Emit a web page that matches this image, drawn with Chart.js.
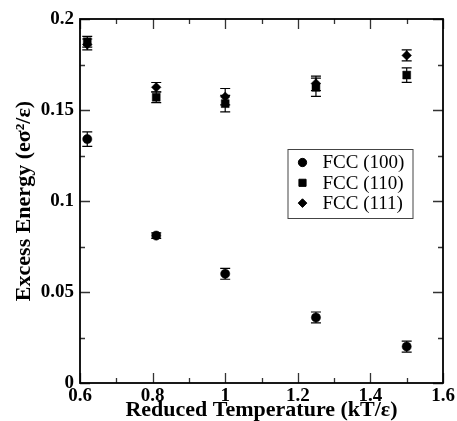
<!DOCTYPE html>
<html><head><meta charset="utf-8">
<script src="https://cdn.jsdelivr.net/npm/chart.js@4.4.1/dist/chart.umd.min.js"></script>
<style>html,body{margin:0;padding:0;background:#fff}#wrap{width:457px;height:421px}</style>
</head><body><div id="wrap"><canvas id="c" width="457" height="421"></canvas></div>
<script>
const temps = [0.62, 0.81, 1.0, 1.25, 1.5];
const fcc100 = [0.134, 0.081, 0.060, 0.036, 0.020];
const fcc100Err = [0.004, 0.0015, 0.003, 0.003, 0.003];
const fcc110 = [0.1875, 0.157, 0.1535, 0.1625, 0.1692];
const fcc110Err = [0.003, 0.003, 0.0045, 0.005, 0.004];
const fcc111 = [0.186, 0.1625, 0.1573, 0.1646, 0.1800];
const fcc111Err = [0.003, 0.0026, 0.0045, 0.004, 0.003];
const seriesNames = ['FCC (100)', 'FCC (110)', 'FCC (111)'];
const xTickValues = [0.6, 0.8, 1.0, 1.2, 1.4, 1.6];
const xTickLabels = ['0.6', '0.8', '1', '1.2', '1.4', '1.6'];
const xMinorTicks = [0.7, 0.9, 1.1, 1.3, 1.5];
const yTickValues = [0, 0.05, 0.1, 0.15, 0.2];
const yTickLabels = ['0', '0.05', '0.1', '0.15', '0.2'];
const yMinorTicks = [0.025, 0.075, 0.125, 0.175];

const FONT = 'Liberation Serif';
const pointStyles = ['circle', 'rect', 'rectRot'];
const pointRadii = [4.6, 5.6, 4.8];

function pts(ys) { return temps.map((t, i) => ({x: t, y: ys[i]})); }
const values = [fcc100, fcc110, fcc111];
const errs = [fcc100Err, fcc110Err, fcc111Err];

const datasets = seriesNames.map((name, k) => ({
  label: name,
  data: pts(values[k]),
  errors: errs[k],
  showLine: false,
  pointStyle: pointStyles[k],
  pointRadius: pointRadii[k],
  pointHoverRadius: pointRadii[k],
  backgroundColor: '#000',
  borderColor: '#000',
  pointBorderWidth: 0.5
}));

const decor = {
  id: 'decor',
  beforeDatasetsDraw(chart) {
    const ctx = chart.ctx, xs = chart.scales.x, ys = chart.scales.y;
    ctx.save();
    ctx.strokeStyle = '#000';
    ctx.lineWidth = 1.2;
    chart.data.datasets.forEach(ds => {
      ds.data.forEach((p, i) => {
        const e = ds.errors[i];
        const px = xs.getPixelForValue(p.x);
        const y1 = ys.getPixelForValue(p.y + e), y2 = ys.getPixelForValue(p.y - e);
        ctx.beginPath();
        ctx.moveTo(px, y1); ctx.lineTo(px, y2);
        ctx.moveTo(px - 5, y1); ctx.lineTo(px + 5, y1);
        ctx.moveTo(px - 5, y2); ctx.lineTo(px + 5, y2);
        ctx.stroke();
      });
    });
    ctx.restore();
  },
  afterDraw(chart) {
    const ctx = chart.ctx, xs = chart.scales.x, ys = chart.scales.y;
    const a = chart.chartArea;
    ctx.save();
    ctx.lineWidth = 1.3;
    ctx.strokeStyle = '#333';
    const tick = (vals, len, isX) => {
      vals.forEach(v => {
        ctx.beginPath();
        if (isX) {
          const px = Math.round(xs.getPixelForValue(v)) + 0.5;
          ctx.moveTo(px, a.bottom); ctx.lineTo(px, a.bottom - len);
          ctx.moveTo(px, a.top); ctx.lineTo(px, a.top + len);
        } else {
          const py = Math.round(ys.getPixelForValue(v)) + 0.5;
          ctx.moveTo(a.left, py); ctx.lineTo(a.left + len, py);
          ctx.moveTo(a.right, py); ctx.lineTo(a.right - len, py);
        }
        ctx.stroke();
      });
    };
    tick(xTickValues, 10, true);
    tick(xMinorTicks, 5, true);
    tick(yTickValues, 10, false);
    tick(yMinorTicks, 5, false);
    ctx.strokeStyle = '#000';
    ctx.lineWidth = 1.8;
    ctx.strokeRect(a.left, a.top, a.right - a.left, a.bottom - a.top);
    // legend
    const bx = a.left + 207.5, by = a.top + 130, bw = 125, bh = 69;
    ctx.lineWidth = 1;
    ctx.strokeStyle = '#444';
    ctx.fillStyle = '#fff';
    ctx.fillRect(bx, by, bw, bh);
    ctx.strokeRect(bx + 0.5, by + 0.5, bw, bh);
    ctx.font = '19px "' + FONT + '"';
    ctx.textBaseline = 'middle';
    ctx.textAlign = 'left';
    chart.data.datasets.forEach((ds, k) => {
      const cy = by + 13.5 + k * 20.3;
      ctx.fillStyle = '#000';
      ctx.strokeStyle = '#000';
      Chart.helpers.drawPoint(ctx, {pointStyle: ds.pointStyle, radius: ds.pointRadius * 0.9, borderWidth: 0.5, rotation: 0}, bx + 15, cy);
      ctx.fillStyle = '#000';
      ctx.fillText(ds.label, bx + 35, cy + 1);
    });
    ctx.restore();
  }
};

new Chart(document.getElementById('c'), {
  type: 'scatter',
  data: {datasets},
  options: {
    responsive: false,
    animation: false,
    devicePixelRatio: 1,
    layout: {padding: {top: 19, right: 14, left: 0, bottom: 0}},
    plugins: {legend: {display: false}, tooltip: {enabled: false}},
    scales: {
      x: {
        type: 'linear', min: 0.6, max: 1.6,
        afterBuildTicks: s => { s.ticks = xTickValues.map(v => ({value: v})); },
        afterFit: s => { s.height = 38; },
        grid: {display: false, drawTicks: false},
        border: {display: false},
        ticks: {
          callback: (v, i) => xTickLabels[i],
          font: {family: FONT, size: 19, weight: 'bold'},
          color: '#000', padding: 2, maxRotation: 0, autoSkip: false
        },
        title: {
          display: true, text: 'Reduced Temperature (kT/ε)', color: '#000',
          font: {family: FONT, size: 22, weight: 'bold', lineHeight: 1},
          padding: {top: 0, bottom: 0}
        }
      },
      y: {
        type: 'linear', min: 0, max: 0.2,
        afterBuildTicks: s => { s.ticks = yTickValues.map(v => ({value: v})); },
        afterFit: s => { s.width = 80; },
        grid: {display: false, drawTicks: false},
        border: {display: false},
        ticks: {
          callback: (v, i) => yTickLabels[i],
          font: {family: FONT, size: 19, weight: 'bold'},
          color: '#000', padding: 6, autoSkip: false
        },
        title: {
          display: true, text: 'Excess Energy (eσ²/ε)', color: '#000',
          font: {family: FONT, size: 22, weight: 'bold', lineHeight: 1},
          padding: {top: 13, bottom: 0}
        }
      }
    }
  },
  plugins: [decor]
});
</script></body></html>
